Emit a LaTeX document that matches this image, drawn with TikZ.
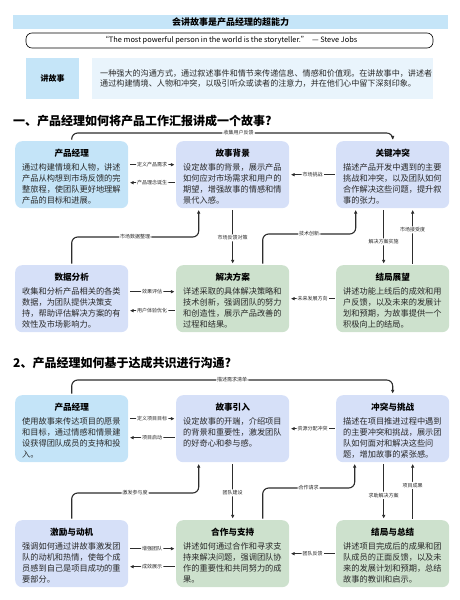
\documentclass[tikz,border=0pt]{standalone}
\usepackage{fontspec}
\setmainfont{Noto Sans CJK SC}
\usepackage{tikz}
\usetikzlibrary{arrows.meta,positioning,calc}
\definecolor{skyCard}{RGB}{196,228,248}
\definecolor{lavCard}{RGB}{214,224,248}
\definecolor{greenCard}{RGB}{205,225,205}
\definecolor{barBlue}{RGB}{197,229,248}
\definecolor{defLight}{RGB}{233,244,252}
\definecolor{linkGray}{RGB}{45,45,45}
\definecolor{inkGray}{RGB}{40,40,40}

\tikzset{
  card/.style={rounded corners=7pt,minimum width=113pt,minimum height=67pt,inner sep=0pt,anchor=north west},
  cardhead/.style={font=\bfseries\fontsize{8.6}{10}\selectfont,text=black},
  cardbody/.style={font=\fontsize{8.2}{11}\selectfont,align=left,anchor=north west,inner sep=0pt,text=inkGray},
  lbl/.style={font=\fontsize{5}{6}\selectfont,fill=white,inner sep=1.2pt,text=inkGray},
  link/.style={draw=linkGray,line width=1.1pt,rounded corners=6pt,-{Latex[length=3.6pt,width=3.6pt]},shorten >=1.5pt,shorten <=1.5pt},
  secttitle/.style={font=\bfseries\fontsize{12}{14}\selectfont,anchor=west,inner sep=0pt}
}

\begin{document}
\begin{tikzpicture}[x=1pt,y=-1pt]
        \useasboundingbox (0,0) rectangle (459,600);
        % Header
        \node[fill=barBlue,minimum width=435pt,minimum height=14pt,inner sep=0pt,font=\bfseries\fontsize{9}{10}\selectfont] (bar) at (230.5,22) {会讲故事是产品经理的超能力};
        \node[draw=black,line width=0.6pt,rounded corners=6pt,minimum width=407pt,minimum height=15pt,inner sep=0pt,font=\fontsize{7.4}{8}\selectfont] (quote) at (229.5,40.5) {“The most powerful person in the world is the storyteller.”\enspace — Steve Jobs};
        % Definition
        \node[fill=barBlue,anchor=north west,minimum width=53pt,minimum height=41pt,inner sep=0pt,font=\bfseries\fontsize{8}{10}\selectfont] (defK) at (26,58) {讲故事};
        \node[fill=defLight,anchor=north west,text width=325pt,inner xsep=8pt,inner ysep=0pt,minimum height=41pt,align=left,font=\fontsize{8.1}{10}\selectfont,text=inkGray] (defV) at (92,58) {一种强大的沟通方式，通过叙述事件和情节来传递信息、情感和价值观。在讲故事中，讲述者\\通过构建情境、人物和冲突，以吸引听众或读者的注意力，并在他们心中留下深刻印象。};

        % Section 1
        \node[secttitle] (sec1) at (13,121) {一、产品经理如何将产品工作汇报讲成一个故事?};
        % Product manager
        \node[card,fill=skyCard] (pa) at (15,141) {};
        \node[cardhead] (paT) at ([yshift=-12pt]pa.north) {产品经理};
        \node[cardbody] (paX) at ([shift={(7pt,-22pt)}]pa.north west) {通过构建情境和人物，讲述\\产品从构想到市场反馈的完\\整旅程，使团队更好地理解\\产品的目标和进展。};
        % Background
        \node[card,fill=lavCard] (bg) at (176,141) {};
        \node[cardhead] (bgT) at ([yshift=-12pt]bg.north) {故事背景};
        \node[cardbody] (bgX) at ([shift={(7pt,-22pt)}]bg.north west) {设定故事的背景，展示产品\\如何应对市场需求和用户的\\期望，增强故事的情感和情\\景代入感。};
        % Conflict
        \node[card,fill=lavCard] (cf) at (336,141) {};
        \node[cardhead] (cfT) at ([yshift=-12pt]cf.north) {关键冲突};
        \node[cardbody] (cfX) at ([shift={(7pt,-22pt)}]cf.north west) {描述产品开发中遇到的主要\\挑战和冲突，以及团队如何\\合作解决这些问题，提升叙\\事的张力。};
        % Data
        \node[card,fill=lavCard] (da) at (15,265) {};
        \node[cardhead] (daT) at ([yshift=-12pt]da.north) {数据分析};
        \node[cardbody] (daX) at ([shift={(7pt,-22pt)}]da.north west) {收集和分析产品相关的各类\\数据，为团队提供决策支\\持，帮助评估解决方案的有\\效性及市场影响力。};
        % Solution
        \node[card,fill=greenCard] (so) at (176,265) {};
        \node[cardhead] (soT) at ([yshift=-12pt]so.north) {解决方案};
        \node[cardbody] (soX) at ([shift={(7pt,-22pt)}]so.north west) {详述采取的具体解决策略和\\技术创新，强调团队的努力\\和创造性，展示产品改善的\\过程和结果。};
        % Outlook
        \node[card,fill=greenCard] (ou) at (336,265) {};
        \node[cardhead] (ouT) at ([yshift=-12pt]ou.north) {结局展望};
        \node[cardbody] (ouX) at ([shift={(7pt,-22pt)}]ou.north west) {讲述功能上线后的成效和用\\户反馈，以及未来的发展计\\划和预期，为故事提供一个\\积极向上的结局。};
        % Links 1
        \draw[link] (pa.north) -- ++(0,-8) -| (cf.north) node[lbl,pos=0.26] (l1) {收集用户反馈};
        \draw[link] ([yshift=10pt]pa.east) -- node[lbl] (l2) {定义产品需求} ([yshift=10pt]bg.west);
        \draw[link] ([yshift=-8pt]bg.west) -- node[lbl] (l3) {产品理念诞生} ([yshift=-8pt]pa.east);
        \draw[link] (cf.west) -- node[lbl] (l4) {市场挑战} (bg.west -| bg.east);
        \draw[link] (da.north) -- ++(0,-28) -| ([xshift=-34pt]bg.south) node[lbl,pos=0.25] (l5) {市场数据整理};
        \draw[link] (bg.south) -- node[lbl,pos=0.52] (l6) {市场反馈对策} (so.north);
        \draw[link] ([xshift=30pt]so.north) -- ++(0,-31) -| ([xshift=-37pt]cf.south) node[lbl,pos=0.25] (l7) {技术创新};
        \draw[link] ([xshift=-9pt]cf.south) -- node[lbl,pos=0.59] (l8) {解决方案实施} ([xshift=-9pt]ou.north);
        \draw[link] ([xshift=20pt]ou.north) -- node[lbl,pos=0.62] (l9) {市场接受度} ([xshift=20pt]cf.south);
        \draw[link] ([yshift=7pt]da.east) -- node[lbl] (l10) {效果评估} ([yshift=7pt]so.west);
        \draw[link] ([yshift=-12pt]so.west) -- node[lbl] (l11) {用户体验优化} ([yshift=-12pt]da.east);
        \draw[link] (ou.west) -- node[lbl] (l12) {未来发展方向} (so.east);

        % Section 2
        \node[secttitle] (sec2) at (13,363) {2、产品经理如何基于达成共识进行沟通?};
        % Product manager
        \node[card,fill=skyCard] (pb) at (15,395) {};
        \node[cardhead] (pbT) at ([yshift=-12pt]pb.north) {产品经理};
        \node[cardbody] (pbX) at ([shift={(7pt,-22pt)}]pb.north west) {使用故事来传达项目的愿景\\和目标，通过情感和情景建\\设获得团队成员的支持和投\\入。};
        % Opening
        \node[card,fill=lavCard] (in) at (176,395) {};
        \node[cardhead] (inT) at ([yshift=-12pt]in.north) {故事引入};
        \node[cardbody] (inX) at ([shift={(7pt,-22pt)}]in.north west) {设定故事的开端，介绍项目\\的背景和重要性，激发团队\\的好奇心和参与感。};
        % Conflict and challenge
        \node[card,fill=lavCard] (cc) at (336,395) {};
        \node[cardhead] (ccT) at ([yshift=-12pt]cc.north) {冲突与挑战};
        \node[cardbody] (ccX) at ([shift={(7pt,-22pt)}]cc.north west) {描述在项目推进过程中遇到\\的主要冲突和挑战，展示团\\队如何面对和解决这些问\\题，增加故事的紧张感。};
        % Motivation
        \node[card,fill=lavCard] (mo) at (15,520) {};
        \node[cardhead] (moT) at ([yshift=-12pt]mo.north) {激励与动机};
        \node[cardbody] (moX) at ([shift={(7pt,-22pt)}]mo.north west) {强调如何通过讲故事激发团\\队的动机和热情，使每个成\\员感到自己是项目成功的重\\要部分。};
        % Cooperation
        \node[card,fill=greenCard] (co) at (176,520) {};
        \node[cardhead] (coT) at ([yshift=-12pt]co.north) {合作与支持};
        \node[cardbody] (coX) at ([shift={(7pt,-22pt)}]co.north west) {讲述如何通过合作和寻求支\\持来解决问题，强调团队协\\作的重要性和共同努力的成\\果。};
        % Summary
        \node[card,fill=greenCard] (su) at (336,520) {};
        \node[cardhead] (suT) at ([yshift=-12pt]su.north) {结局与总结};
        \node[cardbody] (suX) at ([shift={(7pt,-22pt)}]su.north west) {讲述项目完成后的成果和团\\队成员的正面反馈，以及未\\来的发展计划和预期，总结\\故事的教训和启示。};
        % Links 2
        \draw[link] (pb.north) -- ++(0,-15) -| (cc.north) node[lbl,pos=0.25] (m1) {描述需求清单};
        \draw[link] ([yshift=10pt]pb.east) -- node[lbl] (m2) {定义项目目标} ([yshift=10pt]in.west);
        \draw[link] ([yshift=-9pt]in.west) -- node[lbl] (m3) {项目启动} ([yshift=-9pt]pb.east);
        \draw[link] (cc.west) -- node[lbl] (m4) {资源分配冲突} (in.east);
        \draw[link] (mo.north) -- ++(0,-27) -| ([xshift=-34pt]in.south) node[lbl,pos=0.25] (m5) {激发参与度};
        \draw[link] (in.south) -- node[lbl,pos=0.53] (m6) {团队建设} (co.north);
        \draw[link] ([xshift=30pt]co.north) -- ++(0,-32) -| ([xshift=-38pt]cc.south) node[lbl,pos=0.25] (m7) {合作请求};
        \draw[link] ([xshift=-9pt]cc.south) -- node[lbl,pos=0.57] (m8) {求助解决方案} ([xshift=-9pt]su.north);
        \draw[link] ([xshift=20pt]su.north) -- node[lbl,pos=0.6] (m9) {项目成果} ([xshift=20pt]cc.south);
        \draw[link] ([yshift=5pt]mo.east) -- node[lbl] (m10) {增强团队} ([yshift=5pt]co.west);
        \draw[link] ([yshift=-13pt]co.west) -- node[lbl] (m11) {成效展示} ([yshift=-13pt]mo.east);
        \draw[link] (su.west) -- node[lbl] (m12) {团队反馈} (co.east);
      \end{tikzpicture}
\end{document}
